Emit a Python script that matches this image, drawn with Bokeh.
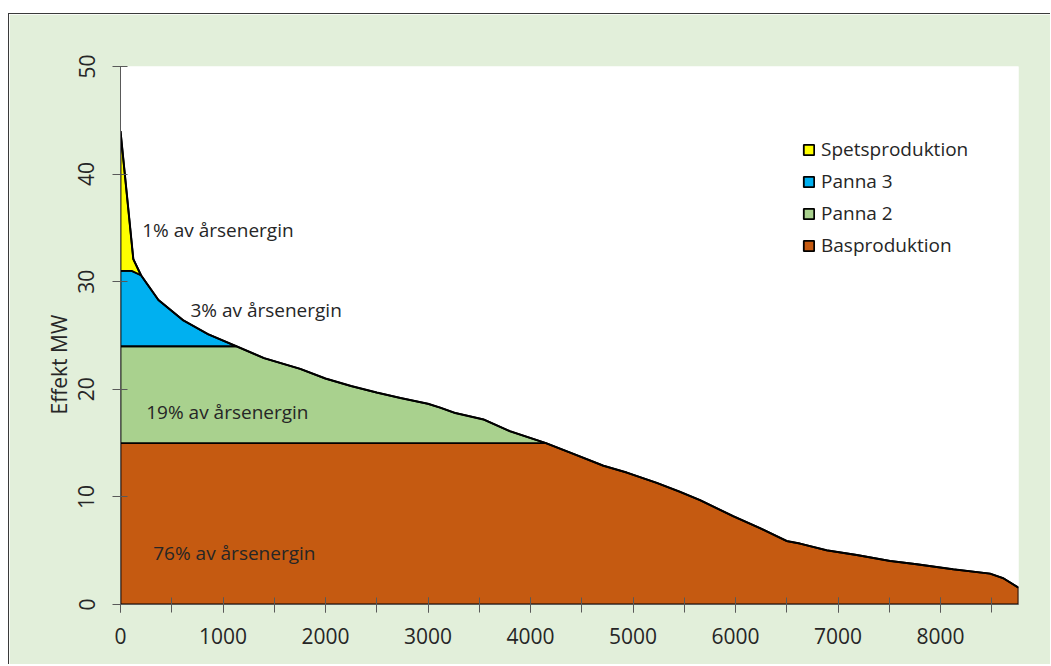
import numpy as np
from bokeh.plotting import figure
from bokeh.models import Label, Legend, LegendItem, SingleIntervalTicker, Title
from bokeh.embed import file_html
from bokeh.resources import INLINE

# ---- data ----
hours = [0, 125, 200, 370, 614, 858, 1130, 1400, 1753, 2000, 2250, 2500, 2729,
         3000, 3118, 3264, 3540, 3800, 4150, 4418, 4710, 4939, 5231, 5450, 5653,
         5978, 6238, 6499, 6629, 6889, 7182, 7506, 7767, 8124, 8482, 8612, 8760]
effekt = [44.0, 32.1, 30.6, 28.3, 26.4, 25.1, 24.0, 22.9, 21.9, 21.0, 20.3, 19.7, 19.2,
          18.65, 18.3, 17.8, 17.2, 16.1, 15.0, 14.0, 12.9, 12.26, 11.3, 10.5, 9.7,
          8.2, 7.1, 5.9, 5.66, 5.04, 4.6, 4.05, 3.74, 3.27, 2.87, 2.44, 1.56]
bas_niva = 15.0
panna2_niva = 24.0
panna3_tak_x = [0, 110, 200]
panna3_tak_y = [31.0, 31.0, 30.6]

series = ["Spetsproduktion", "Panna 3", "Panna 2", "Basproduktion"]
colors = {"Spetsproduktion": "#ffff00", "Panna 3": "#00b0f0",
          "Panna 2": "#a9d18e", "Basproduktion": "#c55a11"}
andelar = ["1% av årsenergin", "3% av årsenergin", "19% av årsenergin", "76% av årsenergin"]
y_titel = "Effekt MW"

FONT = "Open Sans"
TXT = "#262626"

h = np.array(hours, dtype=float)
e = np.array(effekt, dtype=float)

p = figure(frame_width=898, frame_height=538, x_range=(0, 8760), y_range=(0, 50),
           output_backend="svg", toolbar_location=None,
           min_border_left=111, min_border_right=32, min_border_top=52, min_border_bottom=60)
p.styles = {"margin-top": "13px", "margin-left": "8px",
            "border-top": "1px solid #3a3a3a", "border-left": "1px solid #3a3a3a"}
p.background_fill_color = "white"
p.border_fill_color = "#e2efda"
p.outline_line_color = None
p.grid.visible = False

LW = 1.8
# Basproduktion
bx = list(h) + [8760, 0]
by = list(np.minimum(e, bas_niva)) + [0, 0]
r_bas = p.patch(bx, by, fill_color=colors["Basproduktion"], line_color="black", line_width=LW)

# Panna 2
m2 = h <= 4150
p2x = list(h[m2]) + [4150, 0]
p2y = list(np.minimum(e[m2], panna2_niva)) + [bas_niva, bas_niva]
r_p2 = p.patch(p2x, p2y, fill_color=colors["Panna 2"], line_color="black", line_width=LW)

# Panna 3
m3 = (h > 200) & (h <= 1130)
p3x = panna3_tak_x + list(h[m3]) + [0]
p3y = panna3_tak_y + list(e[m3]) + [panna2_niva]
r_p3 = p.patch(p3x, p3y, fill_color=colors["Panna 3"], line_color="black", line_width=LW)

# Spetsproduktion
ms = h <= 200
spx = list(h[ms]) + panna3_tak_x[::-1][1:]
spy = list(e[ms]) + panna3_tak_y[::-1][1:]
r_sp = p.patch(spx, spy, fill_color=colors["Spetsproduktion"], line_color="black", line_width=LW)

# curve outline on top
p.line(h, e, line_color="black", line_width=2)

# axes
p.xaxis.ticker = SingleIntervalTicker(interval=1000, num_minor_ticks=2)
p.yaxis.ticker = SingleIntervalTicker(interval=10, num_minor_ticks=0)
for ax in (p.xaxis[0], p.yaxis[0]):
    ax.axis_line_color = "#595959"
    ax.major_tick_line_color = "#595959"
    ax.minor_tick_line_color = "#595959"
    ax.major_tick_in = 7
    ax.major_tick_out = 8
    ax.minor_tick_in = 7
    ax.minor_tick_out = 8
    ax.major_label_text_font = FONT
    ax.major_label_text_font_size = "21px"
    ax.major_label_text_color = TXT
p.yaxis.minor_tick_line_color = None
p.xaxis.major_label_standoff = 15
p.yaxis.major_label_orientation = "vertical"
p.yaxis.major_label_standoff = 18

# y-axis title (placed slightly below the centre, as in the reference)
p.add_layout(Title(text=y_titel, align="left", offset=190, text_font=FONT,
                   text_font_size="21px", text_font_style="normal", text_color=TXT,
                   standoff=6), "left")

# annotations
ann_pos = [(212, 34.8), (682, 27.4), (251, 17.9), (319, 4.8)]
for txt, (ax_, ay_) in zip(andelar, ann_pos):
    p.add_layout(Label(x=ax_, y=ay_, text=txt, text_font=FONT, text_font_size="19px",
                       text_color=TXT, text_baseline="middle", text_align="left"))

# legend
renderers = {"Spetsproduktion": r_sp, "Panna 3": r_p3, "Panna 2": r_p2, "Basproduktion": r_bas}
legend = Legend(items=[LegendItem(label=s, renderers=[renderers[s]]) for s in series],
                location=(682, 346), orientation="vertical")
legend.background_fill_alpha = 0
legend.border_line_color = None
legend.padding = 0
legend.margin = 0
legend.spacing = 6
legend.glyph_width = 13
legend.glyph_height = 13
legend.label_height = 20
legend.label_standoff = 6
legend.label_text_font = FONT
legend.label_text_font_size = "19px"
legend.label_text_color = TXT
p.add_layout(legend)

open("out.html", "w").write(file_html(p, INLINE))
